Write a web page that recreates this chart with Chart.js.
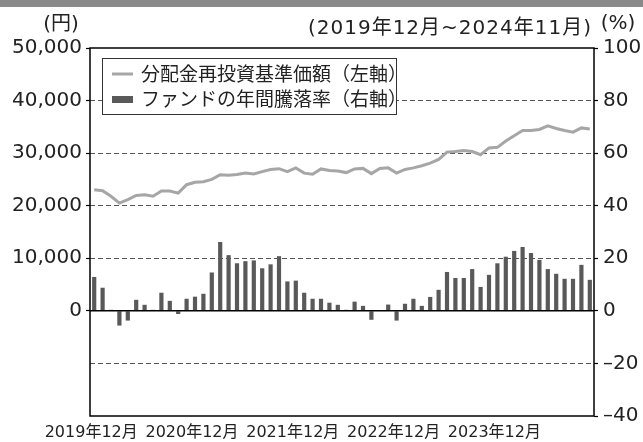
<!DOCTYPE html>
<html lang="ja">
<head>
<meta charset="utf-8">
<title>分配金再投資基準価額とファンドの年間騰落率</title>
<script src="https://cdn.jsdelivr.net/npm/chart.js@4.4.1/dist/chart.umd.min.js"></script>
<style>
  html, body { margin: 0; padding: 0; background: #fff; }
  #grafico { display: block; }
</style>
</head>
<body>
<canvas id="grafico" width="643" height="442"></canvas>
<script>
// meses: 2019年12月 ~ 2024年11月
var meses = [];
for (var i = 0; i < 60; i++) {
  var m = (12 + i - 1) % 12 + 1;
  var a = 2019 + Math.floor((12 + i - 1) / 12);
  meses.push(a + '年' + m + '月');
}

var etiquetasX = ['2019年12月', '2020年12月', '2021年12月', '2022年12月', '2023年12月'];

// 分配金再投資基準価額 (円, eje izquierdo)
var precio = [
  23050, 22860, 21800, 20500, 21150, 21950, 22100, 21800, 22800, 22800,
  22400, 24000, 24450, 24570, 25000, 25900, 25800, 25950, 26230, 26040,
  26480, 26900, 27050, 26480, 27200, 26200, 26000, 27000, 26700, 26600,
  26300, 27000, 27100, 26100, 27100, 27200, 26200, 26900, 27200, 27600,
  28100, 28800, 30200, 30300, 30500, 30300, 29700, 31000, 31100, 32300,
  33300, 34300, 34300, 34500, 35200, 34700, 34300, 34000, 34800, 34600
];

// ファンドの年間騰落率 (%, eje derecho)
var tasa = [
  12.9, 8.8, 0.4, -5.6, -3.7, 4.2, 2.3, 0.4, 6.9, 3.8,
  -1.2, 4.6, 5.4, 6.5, 14.6, 26.2, 21.2, 18.1, 18.9, 19.2,
  16.2, 17.7, 20.8, 11.2, 11.5, 6.9, 4.6, 4.6, 3.1, 2.3,
  0.4, 3.5, 1.9, -3.4, 0, 2.4, -3.7, 2.7, 4.6, 1.9,
  5.3, 8.0, 14.8, 12.5, 12.5, 15.9, 9.1, 13.7, 18.1, 20.6,
  22.8, 24.3, 22.0, 19.4, 15.9, 14.1, 12.2, 12.2, 17.5, 11.8
];

var ticksIzq = [0, 10000, 20000, 30000, 40000, 50000];
var ticksDer = [-40, -20, 0, 20, 40, 60, 80, 100];

var nombres = ['分配金再投資基準価額（左軸）', 'ファンドの年間騰落率（右軸）'];

var fuente = "'DejaVu Sans', 'Noto Sans CJK JP', sans-serif";
var fuenteJp = "'Noto Sans CJK JP', sans-serif";
var texto = '#222';

Chart.defaults.font.family = fuente;
Chart.defaults.color = texto;

// fondo, marco, linea cero, leyenda y textos de cabecera
var extras = {
  id: 'extras',
  beforeDraw: function (chart) {
    var c = chart.ctx;
    c.save();
    c.fillStyle = '#fff';
    c.fillRect(0, 0, chart.width, chart.height);
    c.fillStyle = '#8a8a8a';
    c.fillRect(0, 0, chart.width, 7);
    c.restore();
  },
  afterDatasetsDraw: function (chart) {
    var c = chart.ctx;
    var a = chart.chartArea;
    var y0 = chart.scales.y2.getPixelForValue(0);
    c.save();
    c.strokeStyle = '#000';
    c.lineWidth = 1.5;
    c.beginPath();
    c.moveTo(a.left, y0);
    c.lineTo(a.right, y0);
    c.stroke();
    c.strokeRect(a.left, a.top, a.right - a.left, a.bottom - a.top);

    // leyenda
    var lx = 102, ly = 58, lw = 294, lh = 56;
    c.fillStyle = '#fff';
    c.fillRect(lx, ly, lw, lh);
    c.lineWidth = 1;
    c.strokeStyle = '#333';
    c.strokeRect(lx + 0.5, ly + 0.5, lw, lh);
    var ds = chart.data.datasets;
    c.strokeStyle = ds[0].borderColor;
    c.lineWidth = 3;
    c.beginPath();
    c.moveTo(112, 74);
    c.lineTo(133, 74);
    c.stroke();
    c.fillStyle = ds[1].backgroundColor;
    c.fillRect(112, 96, 21, 7);
    c.fillStyle = texto;
    c.font = '19px ' + fuenteJp;
    c.textBaseline = 'middle';
    c.textAlign = 'left';
    c.fillText(ds[0].label, 141, 74);
    c.fillText(ds[1].label, 141, 99);
    c.restore();
  },
  afterDraw: function (chart) {
    var c = chart.ctx;
    c.save();
    c.fillStyle = texto;
    c.textBaseline = 'middle';
    c.font = '20px ' + fuente;
    c.textAlign = 'center';
    c.fillText('(円)', 61, 25);
    c.fillText('(%)', 618, 24);
    c.textAlign = 'right';
    c.letterSpacing = '1px';
    c.fillText('(2019年12月~2024年11月)', 592, 29);
    c.restore();
  }
};

var ctx = document.getElementById('grafico').getContext('2d');
var chart = new Chart(ctx, {
  type: 'bar',
  data: {
    labels: meses,
    datasets: [{
      type: 'line',
      label: nombres[0],
      data: precio,
      yAxisID: 'y',
      borderColor: '#a6a6a6',
      borderWidth: 3,
      pointRadius: 0,
      tension: 0,
      fill: false,
      order: 0
    }, {
      type: 'bar',
      label: nombres[1],
      data: tasa,
      yAxisID: 'y2',
      backgroundColor: '#595959',
      barPercentage: 0.5,
      categoryPercentage: 1,
      order: 1
    }]
  },
  options: {
    responsive: false,
    animation: false,
    devicePixelRatio: 1,
    layout: { padding: { top: 48, left: 0, right: 0, bottom: 0 } },
    plugins: {
      legend: { display: false },
      tooltip: { enabled: false }
    },
    scales: {
      x: {
        offset: true,
        grid: { display: false, drawTicks: false },
        border: { display: false },
        ticks: {
          autoSkip: false,
          maxRotation: 0,
          padding: 7,
          labelOffset: -3,
          font: { size: 16 },
          color: texto,
          callback: function (v, idx) {
            return etiquetasX.indexOf(meses[idx]) >= 0 ? meses[idx] : '';
          }
        },
        afterFit: function (s) { s.height = 26; }
      },
      y: {
        position: 'left',
        min: -20000,
        max: 50000,
        grid: {
          drawOnChartArea: false,
          drawTicks: true,
          tickLength: 4,
          color: 'rgba(0,0,0,0)',
          tickColor: function (c) { return c.tick && c.tick.value >= 0 ? '#000' : 'rgba(0,0,0,0)'; },
          tickWidth: 1.2
        },
        border: { display: false },
        afterBuildTicks: function (s) {
          s.ticks = [-20000, -10000].concat(ticksIzq).map(function (v) { return { value: v }; });
        },
        ticks: {
          padding: 4,
          font: { size: 20 },
          color: texto,
          callback: function (v) {
            return ticksIzq.indexOf(v) >= 0 ? v.toLocaleString('en-US') : '';
          }
        },
        afterFit: function (s) { s.width = 90; }
      },
      y2: {
        position: 'right',
        min: -40,
        max: 100,
        grid: {
          drawOnChartArea: true,
          drawTicks: true,
          tickLength: 4,
          lineWidth: 1,
          color: function (c) {
            var v = c.tick ? c.tick.value : 0;
            return (v > -40 && v < 100 && v !== 0) ? '#555' : 'rgba(0,0,0,0)';
          },
          tickColor: '#000',
          tickWidth: 1.2
        },
        border: { display: false, dash: [5, 3] },
        afterBuildTicks: function (s) {
          s.ticks = ticksDer.map(function (v) { return { value: v }; });
        },
        ticks: {
          padding: 5,
          font: { size: 20 },
          color: texto,
          callback: function (v) { return v < 0 ? '\u2013' + Math.abs(v) : String(v); }
        },
        afterFit: function (s) { s.width = 49; }
      }
    }
  },
  plugins: [extras]
});
</script>
</body>
</html>
